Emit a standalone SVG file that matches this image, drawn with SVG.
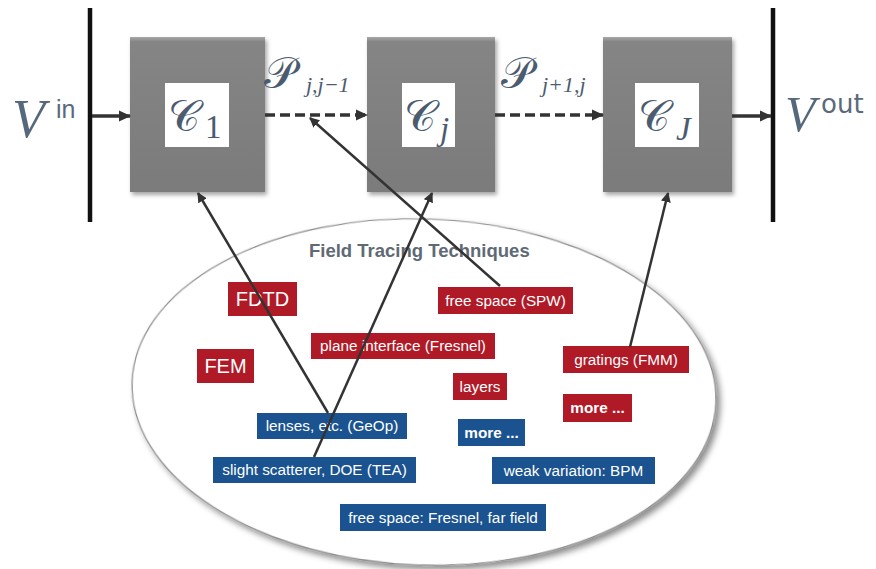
<svg xmlns="http://www.w3.org/2000/svg" width="876" height="569" viewBox="0 0 876 569">
<style>
.bar{stroke:#111;stroke-width:4.5}
.con{stroke:#333;stroke-width:2.5;fill:none}
.dash{stroke:#333;stroke-width:3.5;stroke-dasharray:10 5;fill:none}
.solid{stroke:#333;stroke-width:3.5;fill:none}
.gbox{fill:url(#gg);filter:url(#sh)}
.white{fill:#fff}
.red{fill:#b01a27}
.blue{fill:#1a5390}
.lbl{font-family:"Liberation Sans",Arial,sans-serif;font-size:15.3px;fill:#fff;text-anchor:middle}
.big{font-size:20px}
.bold{font-weight:bold}
.math{font-family:"DejaVu Serif","Liberation Serif",serif;fill:#4c5c70}
.sub{font-family:"Liberation Serif",serif;font-style:italic;fill:#4c5c70}
.num{font-family:"Liberation Serif",serif;fill:#4c5c70}
.vv{font-family:"Liberation Serif",serif;font-style:italic;fill:#56687c}
.sup{font-family:"Liberation Sans",Arial,sans-serif;fill:#5a6a7c}
.supw{font-family:"DejaVu Sans",sans-serif;fill:#5a6a7c}
.title{font-family:"Liberation Sans",Arial,sans-serif;font-weight:bold;font-size:18.5px;fill:#606a75}
</style>
<defs>
<linearGradient id="gg" x1="0" y1="0" x2="0" y2="1">
<stop offset="0" stop-color="#a8a8a8"/>
<stop offset="0.03" stop-color="#858585"/>
<stop offset="1" stop-color="#7b7b7b"/>
</linearGradient>
<filter id="sh" x="-10%" y="-10%" width="130%" height="130%">
<feDropShadow dx="2" dy="3" stdDeviation="2" flood-color="#000" flood-opacity="0.35"/>
</filter>
<filter id="esh" x="-10%" y="-10%" width="125%" height="130%">
<feDropShadow dx="4" dy="4" stdDeviation="3" flood-color="#000" flood-opacity="0.45"/>
</filter>
<marker id="ah" markerWidth="10" markerHeight="10" refX="9" refY="5" orient="auto" markerUnits="userSpaceOnUse">
<path d="M0,0 L10,5 L0,10 Z" fill="#333"/>
</marker>
<marker id="ahb" markerWidth="12" markerHeight="12" refX="11" refY="6" orient="auto" markerUnits="userSpaceOnUse">
<path d="M0,0.5 L12,6 L0,11.5 Z" fill="#333"/>
</marker>
</defs>

<g id="ellipse">
<ellipse cx="424" cy="392" rx="292" ry="173" transform="rotate(2 424 392)" fill="#fff" stroke="#8a8a8a" stroke-width="1.2" filter="url(#esh)"/>
<text class="title" x="309" y="257">Field Tracing Techniques</text>
</g>

<g id="bars">
<line class="bar" x1="90" y1="8" x2="90" y2="222"/>
<line class="bar" x1="773" y1="8" x2="773" y2="222"/>
</g>

<g id="vin">
<text class="vv" x="12" y="137" font-size="54">V</text>
<text class="sup" x="56" y="118" font-size="25">in</text>
</g>
<g id="vout">
<text class="vv" x="785" y="131" font-size="50">V</text>
<text class="supw" x="821" y="113" font-size="26">out</text>
</g>

<g id="C1">
<rect class="gbox" x="130" y="37" width="135" height="155"/>
<rect class="white" x="165" y="83" width="64" height="64"/>
<text class="math" x="168" y="131" font-size="44">𝒞</text>
<text class="num" x="205" y="138" font-size="33">1</text>
</g>
<g id="Cj">
<rect class="gbox" x="367" y="37" width="128" height="155"/>
<rect class="white" x="402" y="83" width="53" height="64"/>
<text class="math" x="404" y="131" font-size="44">𝒞</text>
<text class="sub" x="440" y="140" font-size="33">j</text>
</g>
<g id="CJ">
<rect class="gbox" x="603" y="37" width="129" height="155"/>
<rect class="white" x="635" y="83" width="64" height="64"/>
<text class="math" x="638" y="131" font-size="44">𝒞</text>
<text class="sub" x="676" y="140" font-size="33">J</text>
</g>

<g id="P1">
<text class="math" x="264" y="88" font-size="44">𝒫</text>
<text class="sub" x="306" y="92" font-size="22">j,j−1</text>
</g>
<g id="P2">
<text class="math" x="501" y="88" font-size="44">𝒫</text>
<text class="sub" x="542" y="92" font-size="22">j+1,j</text>
</g>

<g id="FDTD"><rect class="red" x="228" y="282" width="69" height="34"/><text class="lbl big" x="262.5" y="306">FDTD</text></g>
<g id="FEM"><rect class="red" x="197" y="349" width="57" height="34"/><text class="lbl big" x="225.5" y="373">FEM</text></g>
<g id="fsSPW"><rect class="red" x="438" y="287" width="135" height="27"/><text class="lbl" x="505.5" y="306">free space (SPW)</text></g>
<g id="plane"><rect class="red" x="311" y="333" width="184" height="26"/><text class="lbl" x="403" y="351">plane interface (Fresnel)</text></g>
<g id="layers"><rect class="red" x="453" y="373" width="54" height="27"/><text class="lbl" x="480" y="392">layers</text></g>
<g id="gratings"><rect class="red" x="563" y="346" width="126" height="27"/><text class="lbl" x="626" y="365">gratings (FMM)</text></g>
<g id="moreRed"><rect class="red" x="563" y="394" width="69" height="28"/><text class="lbl bold" x="597.5" y="413">more ...</text></g>

<g id="lenses"><rect class="blue" x="257" y="413" width="150" height="26"/><text class="lbl" x="332" y="431">lenses, etc. (GeOp)</text></g>
<g id="moreBlue"><rect class="blue" x="458" y="419" width="67" height="27"/><text class="lbl bold" x="491.5" y="438">more ...</text></g>
<g id="slight"><rect class="blue" x="213" y="457" width="203" height="26"/><text class="lbl" x="314.5" y="475">slight scatterer, DOE (TEA)</text></g>
<g id="weak"><rect class="blue" x="492" y="457" width="163" height="27"/><text class="lbl" x="573.5" y="476">weak variation: BPM</text></g>
<g id="fsFresnel"><rect class="blue" x="340" y="504" width="206" height="27"/><text class="lbl" x="443" y="523">free space: Fresnel, far field</text></g>

<g id="connectors">
<line class="solid" x1="92" y1="116" x2="130" y2="116" marker-end="url(#ahb)"/>
<line class="solid" x1="732" y1="116" x2="771" y2="116" marker-end="url(#ahb)"/>
<line class="dash" x1="265" y1="115" x2="367" y2="115" marker-end="url(#ahb)"/>
<line class="dash" x1="495" y1="115" x2="603" y2="115" marker-end="url(#ahb)"/>
<line class="con" x1="328" y1="413" x2="198" y2="193" marker-end="url(#ah)"/>
<line class="con" x1="314" y1="457" x2="432" y2="193" marker-end="url(#ah)"/>
<line class="con" x1="500" y1="286" x2="310" y2="118" marker-end="url(#ah)"/>
<line class="con" x1="630" y1="347" x2="668" y2="193" marker-end="url(#ah)"/>
</g>
</svg>
